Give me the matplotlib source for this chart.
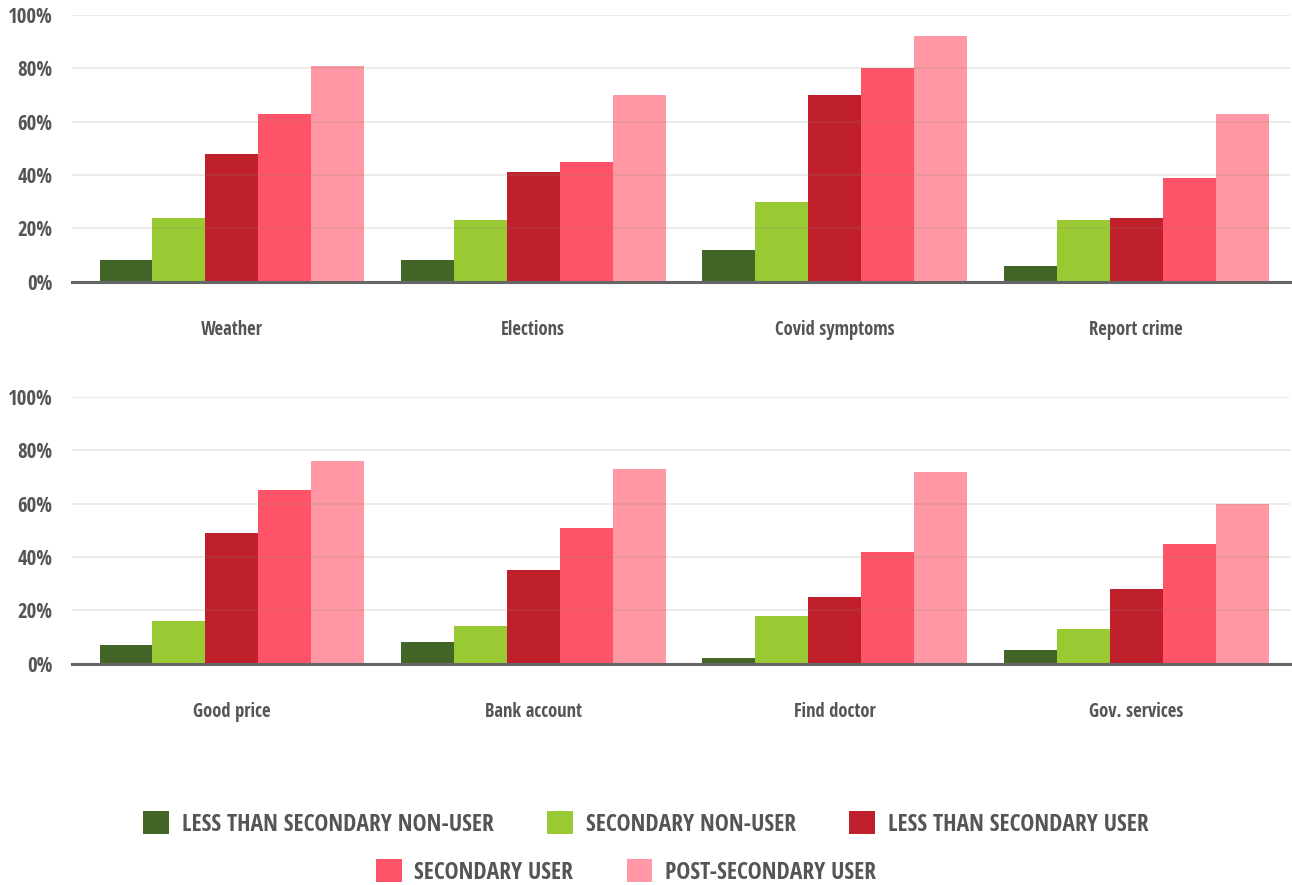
import matplotlib
matplotlib.use("Agg")
import matplotlib.pyplot as plt
from matplotlib.patches import Rectangle
import numpy as np

top_categories = ["Weather", "Elections", "Covid symptoms", "Report crime"]
bottom_categories = ["Good price", "Bank account", "Find doctor", "Gov. services"]
series_names = ["LESS THAN SECONDARY NON-USER", "SECONDARY NON-USER",
                "LESS THAN SECONDARY USER", "SECONDARY USER", "POST-SECONDARY USER"]
series_colors = ["#436628", "#9ACA33", "#C01F2C", "#FF5468", "#FF97A5"]

top_values = [
    [8, 8, 12, 6],      # less than secondary non-user
    [24, 23, 30, 23],   # secondary non-user
    [48, 41, 70, 24],   # less than secondary user
    [63, 45, 80, 39],   # secondary user
    [81, 70, 92, 63],   # post-secondary user
]
bottom_values = [
    [7, 8, 2, 5],
    [16, 14, 18, 13],
    [49, 35, 25, 28],
    [65, 51, 42, 45],
    [76, 73, 72, 60],
]
yticks = [0, 20, 40, 60, 80, 100]
ytick_labels = ["0%", "20%", "40%", "60%", "80%", "100%"]

FONT = ["Open Sans Condensed", "Liberation Sans Narrow", "DejaVu Sans"]
plt.rcParams["font.family"] = FONT
plt.rcParams["font.stretch"] = "condensed"
TXT = "#555559"

fig = plt.figure(figsize=(12.92, 8.85), dpi=100)
W, H = 1292, 885

def make_axes(y_top, y_base):
    return fig.add_axes([72 / W, 1 - y_base / H, (1290 - 72) / W, (y_base - y_top) / H])

ax_top = make_axes(15, 281.5)
ax_bot = make_axes(397, 663.5)

bar_w = 0.1755
n = len(series_names)

for ax, cats, vals in [(ax_top, top_categories, top_values),
                       (ax_bot, bottom_categories, bottom_values)]:
    x = np.arange(len(cats))
    for i in range(n):
        ax.bar(x + (i - (n - 1) / 2) * bar_w, vals[i], width=bar_w,
               color=series_colors[i], linewidth=0, zorder=2)
    ax.set_ylim(0, 100)
    ax.set_xlim(-0.53, len(cats) - 0.49)
    ax.set_yticks(yticks)
    ax.set_yticklabels(ytick_labels)
    ax.set_xticks(x)
    ax.set_xticklabels(cats)
    for s in ["top", "right", "left"]:
        ax.spines[s].set_visible(False)
    ax.spines["bottom"].set_color("#666666")
    ax.spines["bottom"].set_linewidth(2.2)
    ax.spines["bottom"].set_zorder(4)
    ax.yaxis.grid(True, color="#8a8a70", alpha=0.18, linewidth=1.3, zorder=3)
    ax.set_axisbelow(False)
    ax.tick_params(axis="y", length=0, pad=14, labelsize=15, labelcolor=TXT)
    ax.tick_params(axis="x", length=0, pad=27.5, labelsize=13.4, labelcolor=TXT)
    for lab in ax.get_yticklabels() + ax.get_xticklabels():
        lab.set_fontweight("bold")
        lab.set_fontstretch("condensed")

handles = [Rectangle((0, 0), 1, 1, color=c, linewidth=0) for c in series_colors]
leg_kw = dict(frameon=False, handlelength=1.1, handleheight=1.1,
              handletextpad=0.55, columnspacing=2.25, borderaxespad=0,
              prop=dict(family=FONT, weight="bold", stretch="condensed", size=17))
leg1 = fig.legend(handles[:3], series_names[:3], ncol=3, loc="center",
                  bbox_to_anchor=(0.5, 1 - 824 / H), **leg_kw)
leg2 = fig.legend(handles[3:], series_names[3:], ncol=2, loc="center",
                  bbox_to_anchor=(626 / W, 1 - 872 / H), **leg_kw)
for leg in (leg1, leg2):
    for t in leg.get_texts():
        t.set_color(TXT)

fig.savefig("out.png", dpi=100, facecolor="white")
